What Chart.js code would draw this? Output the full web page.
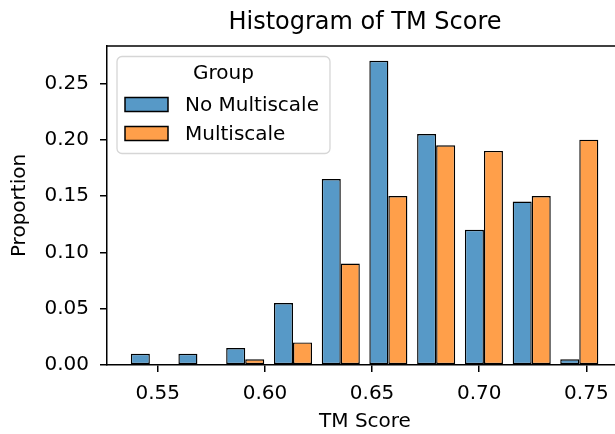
<!DOCTYPE html>
<html>
<head>
<meta charset="utf-8">
<script src="https://cdn.jsdelivr.net/npm/chart.js@4.4.0/dist/chart.umd.min.js"></script>
<style>
  html, body { margin: 0; padding: 0; overflow: hidden; background: #fff; }
</style>
</head>
<body>
<canvas id="hist" width="625" height="434"></canvas>
<script>
// bin centres of the TM score histogram (10 bins)
const binCenters = [0.5463, 0.5685, 0.5908, 0.6131, 0.6354, 0.6576, 0.6799, 0.7022, 0.7245, 0.7467];
const noMultiscale = [0.01, 0.01, 0.015, 0.055, 0.165, 0.27, 0.205, 0.12, 0.145, 0.005];
const multiscale = [0, 0, 0.005, 0.02, 0.09, 0.15, 0.195, 0.19, 0.15, 0.2];
const groups = ['No Multiscale', 'Multiscale'];
const groupColors = ['#5799c7', '#ff9f4a'];
const xTicks = [0.55, 0.60, 0.65, 0.70, 0.75];
const yTicks = [0, 0.05, 0.10, 0.15, 0.20, 0.25];

const FONT = 'DejaVu Sans';
const INK = '#000';

function toPoints(values) {
    return values.map((v, i) => ({ x: binCenters[i], y: v }));
}

// title, top spine and the framed legend
const decorations = {
    id: 'decorations',
    afterDraw(chart) {
        const ctx = chart.ctx;
        const a = chart.chartArea;
        ctx.save();

        // top spine
        ctx.strokeStyle = INK;
        ctx.lineWidth = 1.5;
        ctx.beginPath();
        ctx.moveTo(a.left, a.top);
        ctx.lineTo(a.right, a.top);
        ctx.stroke();

        // title
        ctx.fillStyle = INK;
        ctx.font = '24px "' + FONT + '"';
        ctx.textAlign = 'center';
        ctx.textBaseline = 'middle';
        ctx.fillText('Histogram of TM Score', (a.left + a.right) / 2, 23);

        // legend
        ctx.font = '20px "' + FONT + '"';
        const labelX = a.left + 78;
        const maxW = Math.max(...chart.data.datasets.map(d => ctx.measureText(d.label).width));
        const fx = a.left + 10, fy = a.top + 10.5;
        const fw = labelX + maxW + 11 - fx, fh = 97;
        ctx.beginPath();
        ctx.roundRect(fx, fy, fw, fh, 5);
        ctx.fillStyle = 'rgba(255,255,255,0.8)';
        ctx.fill();
        ctx.strokeStyle = '#d6d6d6';
        ctx.lineWidth = 1.3;
        ctx.stroke();

        ctx.fillStyle = INK;
        ctx.textAlign = 'center';
        ctx.fillText('Group', fx + fw / 2, a.top + 27.5);

        chart.data.datasets.forEach((d, i) => {
            const cy = a.top + 58.5 + i * 29;
            ctx.fillStyle = d.backgroundColor;
            ctx.fillRect(a.left + 18, cy - 7, 43, 14);
            ctx.strokeStyle = INK;
            ctx.lineWidth = 1.5;
            ctx.strokeRect(a.left + 18, cy - 7, 43, 14);
            ctx.fillStyle = INK;
            ctx.textAlign = 'left';
            ctx.fillText(d.label, labelX, cy + 1);
        });
        ctx.restore();
    }
};

const tickFont = { family: FONT, size: 20 };

new Chart(document.getElementById('hist').getContext('2d'), {
    type: 'bar',
    data: {
        datasets: [
            { label: groups[0], data: toPoints(noMultiscale), backgroundColor: groupColors[0] },
            { label: groups[1], data: toPoints(multiscale), backgroundColor: groupColors[1] }
        ]
    },
    options: {
        responsive: false,
        animation: false,
        devicePixelRatio: 1,
        layout: { padding: { top: 46, right: 2, bottom: 0, left: 0 } },
        datasets: {
            bar: {
                borderColor: INK,
                borderWidth: 1.4,
                borderSkipped: false,
                categoryPercentage: 0.8,
                barPercentage: 1.0
            }
        },
        plugins: {
            legend: { display: false },
            tooltip: { enabled: false },
            title: { display: false }
        },
        scales: {
            x: {
                type: 'linear',
                min: 0.5263,
                max: 0.7671,
                offset: false,
                grid: { drawOnChartArea: false, drawTicks: true, tickLength: 7, color: INK, lineWidth: 1.5, offset: false },
                border: { display: true, color: INK, width: 1.5 },
                ticks: { font: tickFont, color: INK, padding: 10, maxRotation: 0, autoSkip: false, callback: v => v.toFixed(2) },
                afterBuildTicks: s => { s.ticks = xTicks.map(v => ({ value: v })); },
                afterFit: s => { s.height = 69; },
                title: { display: true, text: 'TM Score', font: tickFont, color: INK, padding: { top: 0, bottom: 0 } }
            },
            y: {
                min: 0,
                max: 0.2831,
                grid: { drawOnChartArea: false, drawTicks: true, tickLength: 7, color: INK, lineWidth: 1.5 },
                border: { display: true, color: INK, width: 1.5 },
                ticks: { font: tickFont, color: INK, padding: 11, callback: v => v.toFixed(2) },
                afterBuildTicks: s => { s.ticks = yTicks.map(v => ({ value: v })); },
                afterFit: s => { s.width = 107; },
                title: { display: true, text: 'Proportion', font: tickFont, color: INK, padding: { top: 8, bottom: 0 } }
            }
        }
    },
    plugins: [decorations]
});
</script>
</body>
</html>
